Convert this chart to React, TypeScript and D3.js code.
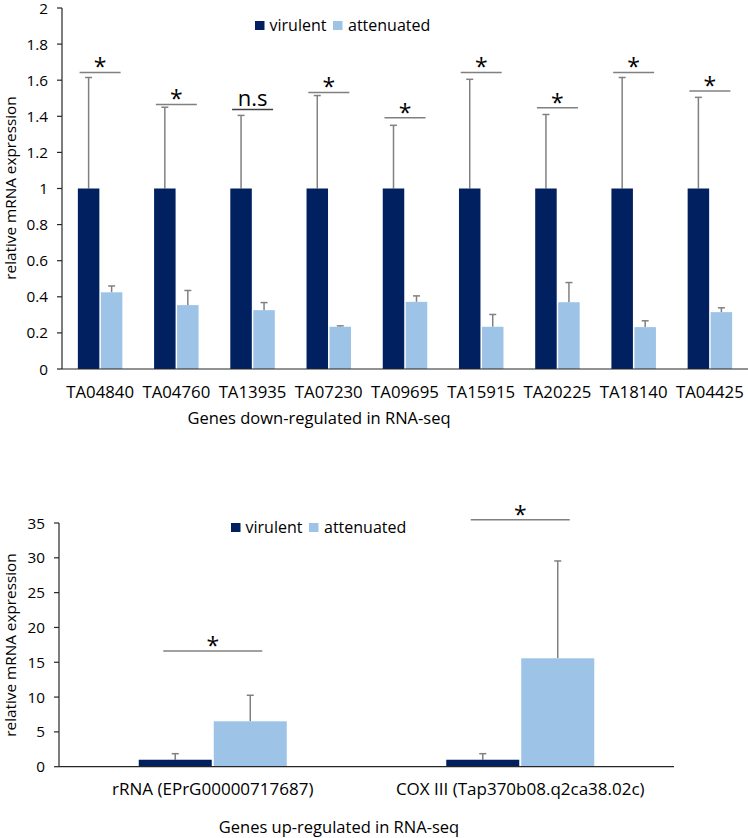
import React from "react";
import * as d3 from "d3";

// ---------- Top chart data ----------
const topGenes = ["TA04840", "TA04760", "TA13935", "TA07230", "TA09695", "TA15915", "TA20225", "TA18140", "TA04425"];
const topVirulent = [1, 1, 1, 1, 1, 1, 1, 1, 1];
const topVirulentErr = [0.615, 0.45, 0.405, 0.515, 0.35, 0.605, 0.41, 0.615, 0.505];
const topAttenuated = [0.425, 0.354, 0.326, 0.234, 0.372, 0.234, 0.37, 0.232, 0.315];
const topAttenuatedErr = [0.035, 0.081, 0.042, 0.005, 0.033, 0.068, 0.109, 0.035, 0.024];
const topSigLevel = [1.643, 1.466, 1.438, 1.532, 1.392, 1.643, 1.448, 1.643, 1.54];
const topSigLabel = ["*", "*", "n.s", "*", "*", "*", "*", "*", "*"];
const topTicks = [0, 0.2, 0.4, 0.6, 0.8, 1, 1.2, 1.4, 1.6, 1.8, 2];

// ---------- Bottom chart data ----------
const botGenes = ["rRNA (EPrG00000717687)", "COX III (Tap370b08.q2ca38.02c)"];
const botVirulent = [1, 1];
const botVirulentErr = [0.87, 0.87];
const botAttenuated = [6.52, 15.57];
const botAttenuatedErr = [3.74, 13.98];
const botSigLevel = [16.6, 35.45];
const botSigLabel = ["*", "*"];
const botTicks = [0, 5, 10, 15, 20, 25, 30, 35];

const seriesNames = ["virulent", "attenuated"];
const colors = ["#002060", "#9DC3E6"];
const FONT = "'Open Sans', 'Noto Sans', sans-serif";
const AXIS = "#262626";
const ERR = "#808080";

function Panel(props: {
  cats: string[];
  v: number[]; ve: number[]; a: number[]; ae: number[];
  sig: number[]; sigLab: string[]; ticks: number[];
  x0: number; x1: number; yTop: number; yBot: number; ymax: number;
  barW: number; gap: number; cap: number;
  catFont: number; catY: number; titleFont: number;
  title: string; titleX: number; titleY: number;
  ytitleY: number; tickFmt: (d: number) => string;
  legX: number; legY: number; sigW: number;
}) {
  const p = props;
  const x = d3.scaleBand<string>().domain(p.cats).range([p.x0, p.x1]).padding(0);
  const y = d3.scaleLinear().domain([0, p.ymax]).range([p.yBot, p.yTop]);
  const els: React.ReactNode[] = [];
  p.cats.forEach((c, i) => {
    const cx = (x(c) as number) + x.bandwidth() / 2;
    const vx = cx - p.gap / 2 - p.barW;
    const ax = cx + p.gap / 2;
    const vc = vx + p.barW / 2;
    const ac = ax + p.barW / 2;
    els.push(
      <g key={"e" + i} stroke={ERR} strokeWidth={1.5}>
        <line x1={vc} x2={vc} y1={y(p.v[i])} y2={y(p.v[i] + p.ve[i])} />
        <line x1={vc - p.cap / 2} x2={vc + p.cap / 2} y1={y(p.v[i] + p.ve[i])} y2={y(p.v[i] + p.ve[i])} />
        <line x1={ac} x2={ac} y1={y(p.a[i])} y2={y(p.a[i] + p.ae[i])} />
        <line x1={ac - p.cap / 2} x2={ac + p.cap / 2} y1={y(p.a[i] + p.ae[i])} y2={y(p.a[i] + p.ae[i])} />
      </g>
    );
    els.push(<rect key={"v" + i} x={vx} y={y(p.v[i])} width={p.barW} height={y(0) - y(p.v[i])} fill={colors[0]} />);
    els.push(<rect key={"a" + i} x={ax} y={y(p.a[i])} width={p.barW} height={y(0) - y(p.a[i])} fill={colors[1]} />);
    const sy = y(p.sig[i]);
    const isNs = p.sigLab[i] !== "*";
    els.push(
      <line key={"s" + i} x1={cx - p.sigW / 2} x2={cx + p.sigW / 2} y1={sy} y2={sy}
        stroke={isNs ? "#404040" : ERR} strokeWidth={1.5} />
    );
    els.push(
      <text key={"t" + i} x={cx} y={isNs ? sy - 3 : sy + 3} textAnchor="middle"
        fontSize={isNs ? 22 : 23} fontFamily={FONT} fill="#000">{p.sigLab[i]}</text>
    );
    els.push(
      <text key={"c" + i} x={cx} y={p.catY} textAnchor="middle" fontSize={p.catFont} fontFamily={FONT} fill="#000">{c}</text>
    );
  });
  return (
    <g>
      {els}
      <line x1={p.x0} x2={p.x0} y1={p.yTop} y2={p.yBot} stroke={AXIS} strokeWidth={1.2} />
      <line x1={p.x0} x2={p.x1} y1={p.yBot} y2={p.yBot} stroke={AXIS} strokeWidth={1.2} />
      {p.ticks.map((t, i) => (
        <g key={"k" + i}>
          <line x1={p.x0 - 5} x2={p.x0} y1={y(t)} y2={y(t)} stroke={AXIS} strokeWidth={1.2} />
          <text x={p.x0 - 14} y={y(t)} dy="0.36em" textAnchor="end" fontSize={15.3} fontFamily={FONT} fill="#000">{p.tickFmt(t)}</text>
        </g>
      ))}
      <text transform={`translate(16,${p.ytitleY}) rotate(-90)`} textAnchor="middle" fontSize={15.3} fontFamily={FONT} fill="#000">relative mRNA expression</text>
      <text x={p.titleX} y={p.titleY} textAnchor="middle" fontSize={p.titleFont} fontFamily={FONT} fill="#000">{p.title}</text>
      <rect x={p.legX} y={p.legY} width={9.5} height={9} fill={colors[0]} />
      <text x={p.legX + 14.5} y={p.legY + 9.5} fontSize={16} fontFamily={FONT} fill="#000">{seriesNames[0]}</text>
      <rect x={p.legX + 78} y={p.legY} width={9.5} height={9} fill={colors[1]} />
      <text x={p.legX + 93} y={p.legY + 9.5} fontSize={16} fontFamily={FONT} fill="#000">{seriesNames[1]}</text>
    </g>
  );
}

export default function App() {
  return (
    <svg width={748} height={838} style={{ position: "absolute", left: 0, top: 0, background: "#fff" }}>
      <rect width={748} height={838} fill="#fff" />
      <Panel cats={topGenes} v={topVirulent} ve={topVirulentErr} a={topAttenuated} ae={topAttenuatedErr}
        sig={topSigLevel} sigLab={topSigLabel} ticks={topTicks}
        x0={62} x1={748} yTop={8} yBot={369} ymax={2}
        barW={21.5} gap={1.5} cap={7} catFont={16.8} catY={398} titleFont={16.5}
        title="Genes down-regulated in RNA-seq" titleX={319} titleY={424}
        ytitleY={188} tickFmt={(d) => (d === 0 ? "0" : d3.format("~g")(d))}
        legX={255} legY={21} sigW={41} />
      <Panel cats={botGenes} v={botVirulent} ve={botVirulentErr} a={botAttenuated} ae={botAttenuatedErr}
        sig={botSigLevel} sigLab={botSigLabel} ticks={botTicks}
        x0={59} x1={674} yTop={523} yBot={766.7} ymax={35}
        barW={73} gap={2} cap={7} catFont={17} catY={795} titleFont={16.5}
        title="Genes up-regulated in RNA-seq" titleX={339} titleY={833}
        ytitleY={645} tickFmt={(d) => String(d)}
        legX={231} legY={523} sigW={99} />
    </svg>
  );
}
